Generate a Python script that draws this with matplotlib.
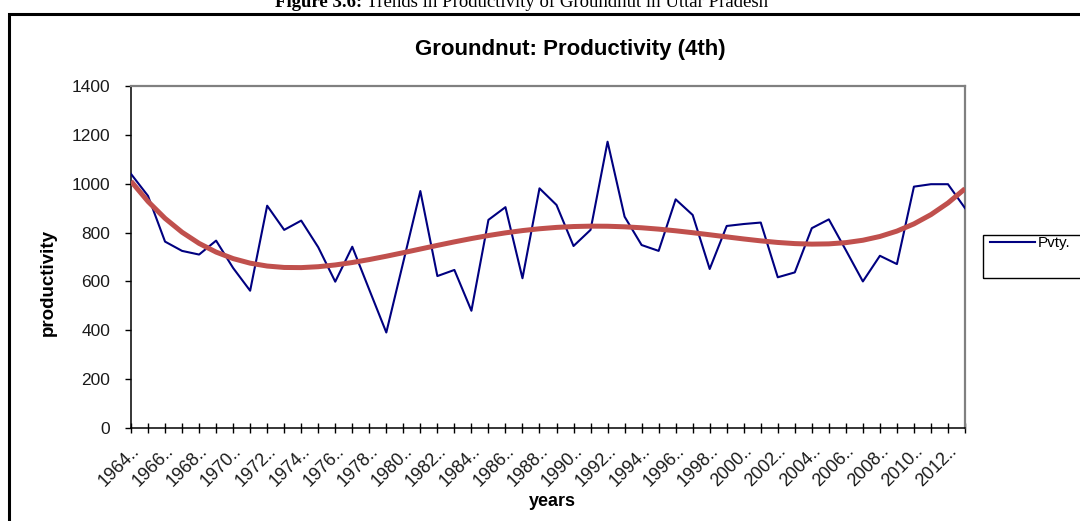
import numpy as np
import matplotlib
matplotlib.use("Agg")
import matplotlib.pyplot as plt
from matplotlib.patches import Rectangle
from matplotlib.ticker import FixedLocator

plt.rcParams["font.family"] = ["Liberation Sans", "DejaVu Sans"]

# Groundnut productivity in Uttar Pradesh
years = np.arange(1964, 2014)
pvty = [1040, 950, 763, 725, 710, 767, 655, 562, 910, 811,
        849, 740, 599, 742, 566, 391, 680, 970, 622, 647,
        480, 852, 904, 613, 981, 913, 745, 811, 1172, 865,
        749, 725, 936, 872, 651, 827, 835, 841, 617, 637,
        818, 854, 728, 600, 705, 671, 988, 998, 998, 900]
label_years = years[::2]
tick_labels = [f"{y}.." for y in label_years]
y_ticks = [0, 200, 400, 600, 800, 1000, 1200, 1400]

W, H = 1080, 521
fig = plt.figure(figsize=(W / 100, H / 100), dpi=100)
fig.patch.set_facecolor("white")

# plot area in pixel terms
L, R, T, B = 131, 965, 86, 428
ax = fig.add_axes([L / W, 1 - B / H, (R - L) / W, (B - T) / H])

line, = ax.plot(years, pvty, color="#000080", lw=1.5, label="Pvty.", zorder=3)
# 4th order polynomial trendline (as in Excel)
coef = np.polyfit(years - years[0], pvty, 4)
trend = np.polyval(coef, years - years[0])
ax.plot(years, trend, color="#C0504D", lw=3.6, zorder=4, solid_capstyle="butt")

ax.set_xlim(years[0], years[-1])
ax.set_ylim(0, 1400)
ax.set_yticks(y_ticks)
ax.set_yticklabels([str(v) for v in y_ticks])
ax.set_xticks(label_years)
ax.set_xticklabels(tick_labels, rotation=45, ha="right", va="top",
                   rotation_mode="anchor")
ax.xaxis.set_minor_locator(FixedLocator(years[1::2]))

ax.tick_params(axis="y", direction="out", length=4.5, width=1, color="black",
               labelsize=12.5, labelcolor="#1a1a1a", pad=10.5)
ax.tick_params(axis="x", which="both", direction="inout", length=6.5, width=1,
               color="black")
ax.tick_params(axis="x", which="major", labelsize=13, labelcolor="#1a1a1a", pad=7)

for s in ("left", "bottom"):
    ax.spines[s].set_color("black")
    ax.spines[s].set_linewidth(1.1)
for s in ("top", "right"):
    ax.spines[s].set_color("#808080")
    ax.spines[s].set_linewidth(1.6)

fig.text(570 / W, 1 - 50 / H, "Groundnut: Productivity (4th)", ha="center",
         va="center", fontsize=16, fontweight="bold")
fig.text(48 / W, 1 - 283 / H, "productivity", ha="center", va="center",
         rotation=90, fontsize=13.5, fontweight="bold")
fig.text(552 / W, 1 - 502 / H, "years", ha="center", va="center",
         fontsize=13, fontweight="bold")

# caption above the chart box, cut by the top edge as in the source
cap_x, cap_y = 362 / W, 1 - 7 / H
fig.text(cap_x, cap_y, "Figure 3.6:", ha="right", va="baseline",
         fontsize=13.5, fontweight="bold", family="Liberation Serif")
fig.text(cap_x, cap_y, " Trends in Productivity of Groundnut in Uttar Pradesh",
         ha="left", va="baseline", fontsize=13.5, family="Liberation Serif")

# chart-area border (right/bottom run past the canvas)
fig.patches.append(Rectangle((8.5 / W, -0.1), 1.2, 1.1 - 14 / H,
                             transform=fig.transFigure, fill=False,
                             ec="black", lw=2.2))

# legend box, cut by the right edge
fig.patches.append(Rectangle((983 / W, 1 - 278 / H), 0.2, 43 / H,
                             transform=fig.transFigure, fill=False,
                             ec="black", lw=1))
fig.legend(handles=[line], labels=["Pvty."], loc="center left",
           bbox_to_anchor=(983 / W, 1 - 243 / H), frameon=False,
           borderaxespad=0, borderpad=0.45, handlelength=2.95,
           handletextpad=0.2, fontsize=11)

fig.savefig("out.png", dpi=100, facecolor="white")
